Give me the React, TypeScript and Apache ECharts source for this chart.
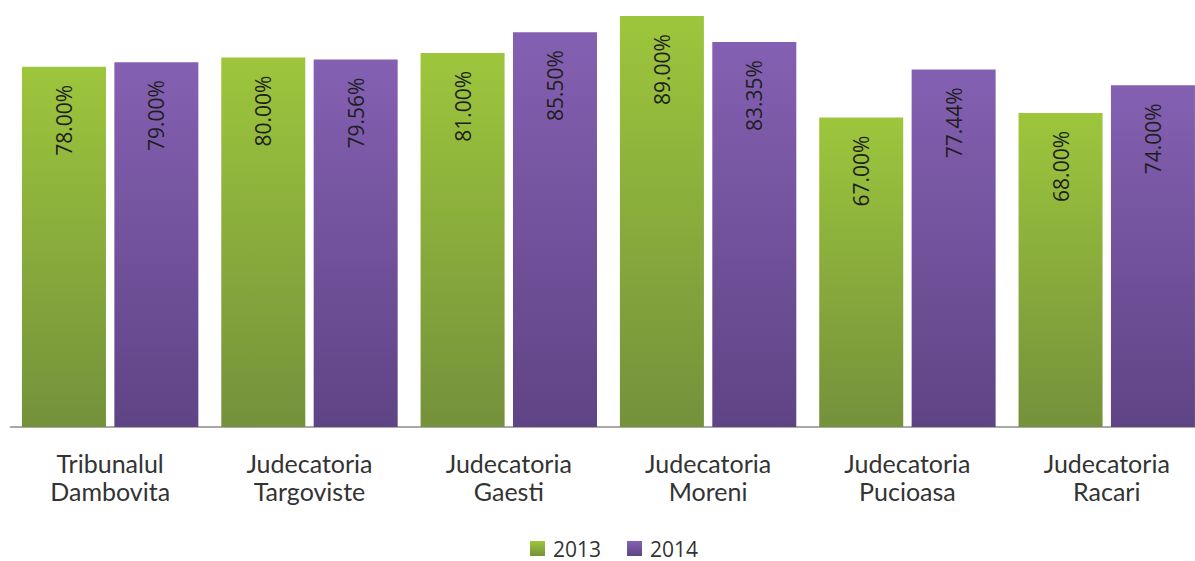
import React, { useEffect, useRef } from "react";
import * as echarts from "echarts";

const categories = [
  "Tribunalul\nDambovita",
  "Judecatoria\nTargoviste",
  "Judecatoria\nGaesti",
  "Judecatoria\nMoreni",
  "Judecatoria\nPucioasa",
  "Judecatoria\nRacari",
];
const values2013 = [78.0, 80.0, 81.0, 89.0, 67.0, 68.0];
const values2014 = [79.0, 79.56, 85.5, 83.35, 77.44, 74.0];
const seriesNames = ["2013", "2014"];

const FONT = "'Open Sans', sans-serif";

export default function App() {
  const ref = useRef<HTMLDivElement>(null);
  useEffect(() => {
    if (!ref.current) return;
    const chart = echarts.init(ref.current, undefined, { renderer: "svg" });
    const label = {
      show: true,
      position: "insideTop",
      rotate: 90,
      align: "right",
      verticalAlign: "middle",
      offset: [-13, 0],
      fontFamily: FONT,
      fontSize: 21,
      color: "#1e1e1e",
      formatter: (p: any) => Number(p.value).toFixed(2) + "%",
    };
    chart.setOption({
      animation: false,
      textStyle: { fontFamily: FONT },
      grid: { left: 10.5, top: 11.4, right: 3.6, bottom: 134, containLabel: false },
      legend: {
        data: seriesNames,
        top: 538,
        left: 530,
        padding: 0,
        itemWidth: 15,
        itemHeight: 15,
        itemGap: 26,
        icon: "rect",
        textStyle: { fontSize: 21, color: "#333", fontFamily: FONT, padding: [0, 0, 0, 3] },
      },
      xAxis: {
        type: "category",
        data: categories,
        axisLine: { lineStyle: { color: "#8c8c8c", width: 1.5 } },
        axisTick: { show: false },
        axisLabel: {
          interval: 0,
          fontSize: 25,
          lineHeight: 28,
          margin: 22,
          color: "#333",
          fontFamily: "Lato, 'Open Sans', sans-serif",
        },
      },
      yAxis: {
        type: "value",
        min: 0,
        max: 90,
        show: false,
        splitLine: { show: false },
      },
      series: [
        {
          name: seriesNames[0],
          type: "bar",
          data: values2013,
          barWidth: 84,
          barGap: "10%",
          itemStyle: {
            color: new echarts.graphic.LinearGradient(0, 0, 0, 1, [
              { offset: 0, color: "#9dc63c" },
              { offset: 1, color: "#74913b" },
            ]),
          },
          label,
        },
        {
          name: seriesNames[1],
          type: "bar",
          data: values2014,
          barWidth: 84,
          itemStyle: {
            color: new echarts.graphic.LinearGradient(0, 0, 0, 1, [
              { offset: 0, color: "#8460b2" },
              { offset: 1, color: "#5f4485" },
            ]),
          },
          label,
        },
      ],
    });
    return () => chart.dispose();
  }, []);
  return (
    <div
      style={{
        position: "fixed",
        left: 0,
        top: 0,
        width: 1195,
        height: 561,
        overflow: "hidden",
        background: "#fff",
      }}
    >
      <div ref={ref} style={{ width: 1210, height: 561 }} />
    </div>
  );
}
